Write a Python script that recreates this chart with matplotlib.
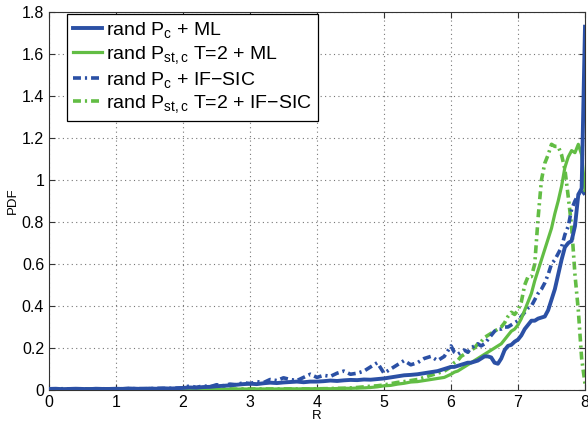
import numpy as np
import matplotlib
matplotlib.use("Agg")
import matplotlib.pyplot as plt

# x grid (R values)
R = np.round(np.concatenate([np.arange(0, 6.0001, 0.1), np.arange(6.05, 8.0001, 0.05)]), 2)

ml_pc = [0.005, 0.006, 0.004, 0.005, 0.006, 0.005, 0.004, 0.006, 0.005, 0.005,
         0.006, 0.005, 0.007, 0.006, 0.005, 0.007, 0.006, 0.008, 0.007, 0.008,
         0.010, 0.012, 0.011, 0.014, 0.015, 0.018, 0.020, 0.022, 0.025, 0.028,
         0.030, 0.028, 0.032, 0.035, 0.033, 0.036, 0.038, 0.040, 0.037, 0.040,
         0.040, 0.042, 0.045, 0.043, 0.046, 0.048, 0.047, 0.050, 0.049, 0.052,
         0.055, 0.060, 0.065, 0.070, 0.072, 0.075, 0.080, 0.085, 0.090, 0.100,
         0.110,
         0.110, 0.115, 0.120, 0.125, 0.130, 0.130, 0.135, 0.140, 0.150, 0.160,
         0.160, 0.155, 0.130, 0.125, 0.150, 0.190, 0.210, 0.215, 0.230, 0.240,
         0.260, 0.290, 0.310, 0.330, 0.330, 0.340, 0.345, 0.350, 0.380, 0.430,
         0.480, 0.550, 0.620, 0.680, 0.700, 0.710, 0.780, 0.930, 0.960, 1.730]

ml_pst = [0.003, 0.003, 0.003, 0.003, 0.003, 0.003, 0.003, 0.003, 0.003, 0.003,
          0.003, 0.003, 0.003, 0.003, 0.003, 0.003, 0.003, 0.003, 0.003, 0.003,
          0.003, 0.003, 0.004, 0.003, 0.004, 0.004, 0.003, 0.004, 0.004, 0.005,
          0.004, 0.005, 0.005, 0.004, 0.005, 0.005, 0.006, 0.005, 0.006, 0.006,
          0.006, 0.007, 0.006, 0.007, 0.008, 0.008, 0.009, 0.010, 0.012, 0.015,
          0.020, 0.022, 0.028, 0.032, 0.038, 0.040, 0.045, 0.050, 0.055, 0.060,
          0.075,
          0.085, 0.090, 0.100, 0.110, 0.120, 0.130, 0.140, 0.150, 0.160, 0.170,
          0.180, 0.190, 0.200, 0.210, 0.220, 0.240, 0.260, 0.280, 0.290, 0.310,
          0.340, 0.380, 0.420, 0.460, 0.520, 0.570, 0.620, 0.670, 0.720, 0.770,
          0.840, 0.900, 0.970, 1.060, 1.110, 1.140, 1.130, 1.170, 1.120, 0.950]

sic_pc = [0.005, 0.005, 0.006, 0.005, 0.005, 0.006, 0.005, 0.005, 0.006, 0.005,
          0.006, 0.006, 0.007, 0.006, 0.007, 0.006, 0.008, 0.007, 0.008, 0.009,
          0.010, 0.020, 0.012, 0.020, 0.015, 0.025, 0.020, 0.028, 0.025, 0.035,
          0.030, 0.040, 0.035, 0.050, 0.045, 0.058, 0.050, 0.045, 0.060, 0.075,
          0.060, 0.070, 0.065, 0.080, 0.090, 0.075, 0.080, 0.090, 0.110, 0.130,
          0.080, 0.100, 0.120, 0.140, 0.120, 0.130, 0.150, 0.160, 0.140, 0.160,
          0.210,
          0.180, 0.170, 0.180, 0.190, 0.180, 0.200, 0.210, 0.220, 0.210, 0.220,
          0.240, 0.260, 0.280, 0.290, 0.290, 0.300, 0.300, 0.310, 0.320, 0.330,
          0.350, 0.370, 0.390, 0.400, 0.430, 0.460, 0.480, 0.510, 0.550, 0.600,
          0.620, 0.650, 0.680, 0.740, 0.780, 0.860, 0.900, 0.930, 0.950, 0.930]

sic_pst = [0.004, 0.004, 0.004, 0.004, 0.004, 0.004, 0.004, 0.004, 0.004, 0.004,
           0.004, 0.004, 0.004, 0.004, 0.004, 0.004, 0.004, 0.004, 0.004, 0.004,
           0.004, 0.004, 0.005, 0.004, 0.005, 0.004, 0.005, 0.005, 0.004, 0.005,
           0.005, 0.005, 0.005, 0.005, 0.005, 0.005, 0.005, 0.005, 0.005, 0.005,
           0.006, 0.006, 0.007, 0.008, 0.008, 0.010, 0.012, 0.015, 0.018, 0.020,
           0.024, 0.030, 0.036, 0.040, 0.045, 0.050, 0.060, 0.070, 0.080, 0.090,
           0.110,
           0.130, 0.140, 0.160, 0.170, 0.180, 0.190, 0.200, 0.220, 0.230, 0.250,
           0.260, 0.270, 0.280, 0.290, 0.300, 0.320, 0.350, 0.370, 0.360, 0.380,
           0.420, 0.500, 0.540, 0.540, 0.600, 0.820, 1.000, 1.080, 1.120, 1.170,
           1.160, 1.160, 1.120, 1.050, 0.920, 0.780, 0.550, 0.380, 0.150, 0.030]

labels = [r"rand P$_\mathregular{c}$ + ML",
          r"rand P$_\mathregular{st,c}$ T=2 + ML",
          r"rand P$_\mathregular{c}$ + IF$-$SIC",
          r"rand P$_\mathregular{st,c}$ T=2 + IF$-$SIC"]

x_ticks = [0, 1, 2, 3, 4, 5, 6, 7, 8]
y_ticks = [0, 0.2, 0.4, 0.6, 0.8, 1.0, 1.2, 1.4, 1.6, 1.8]
y_ticklabels = ["0", "0.2", "0.4", "0.6", "0.8", "1", "1.2", "1.4", "1.6", "1.8"]

blue = "#2b50a5"
green = "#62bd44"
dashdot = (0, (2.2, 1.1, 0.6, 1.1))

plt.rcParams['font.family'] = ['Liberation Sans', 'DejaVu Sans']
plt.rcParams['mathtext.fontset'] = 'custom'
plt.rcParams['mathtext.rm'] = 'Liberation Sans'
plt.rcParams['mathtext.it'] = 'Liberation Sans'

fig = plt.figure(figsize=(5.88, 4.28), dpi=100)
ax = fig.add_axes([49/588, 38/428, 536/588, 378/428])

ax.plot(R, ml_pc, color=blue, lw=2.8, label=labels[0], zorder=4)
ax.plot(R, ml_pst, color=green, lw=2.3, label=labels[1], zorder=3)
ax.plot(R, sic_pc, color=blue, lw=2.6, ls=dashdot, label=labels[2], zorder=2)
ax.plot(R, sic_pst, color=green, lw=2.6, ls=dashdot, label=labels[3], zorder=1)

ax.set_xlim(0, 8)
ax.set_ylim(0, 1.8)
ax.set_xticks(x_ticks)
ax.set_yticks(y_ticks)
ax.set_yticklabels(y_ticklabels)
ax.tick_params(direction='in', top=True, right=True, labelsize=11.5, length=4, color='#333333')
ax.grid(True, ls=(0, (1, 3)), color='#777777', lw=0.8)
for s in ax.spines.values():
    s.set_color('#333333')
ax.set_xlabel("R", fontsize=9.5, labelpad=0)
ax.set_ylabel("PDF", fontsize=9.5, labelpad=2)

leg = ax.legend(loc='upper left', bbox_to_anchor=(18/536, 1 - 2/378), fontsize=14,
                frameon=True, fancybox=False, edgecolor='black', framealpha=1,
                handlelength=1.5, handletextpad=0.2, borderaxespad=0,
                labelspacing=0.2, borderpad=0.3)
leg.get_frame().set_linewidth(0.9)

fig.savefig("out.png", dpi=100)
